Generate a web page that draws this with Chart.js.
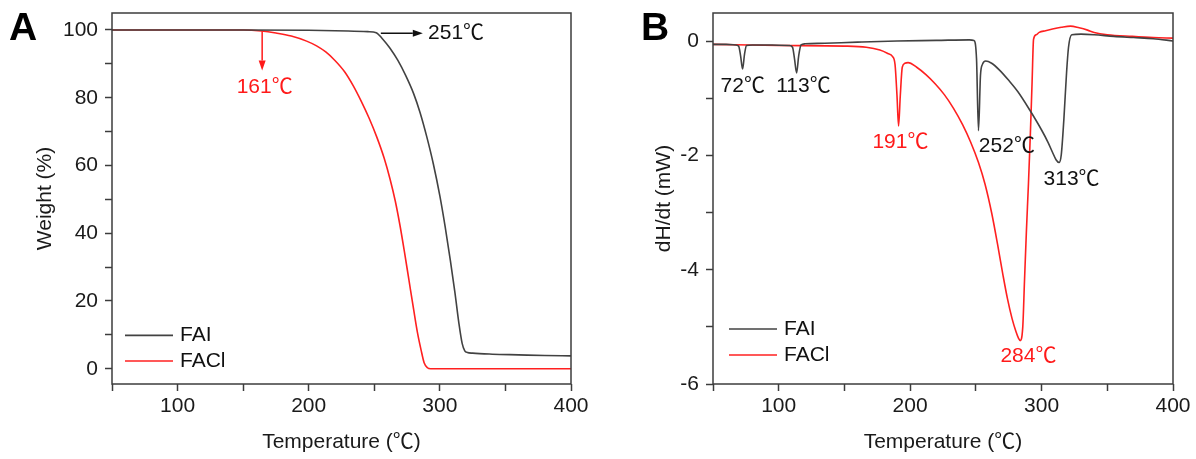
<!DOCTYPE html>
<html><head><meta charset="utf-8">
<script src="https://cdn.jsdelivr.net/npm/chart.js@4.4.1/dist/chart.umd.min.js"></script>
<style>
html,body{margin:0;padding:0;background:#fff;}
#wrap{position:relative;width:1196px;height:459px;overflow:hidden;background:#fff;}
canvas{position:absolute;top:0;}
</style></head><body>
<div id="wrap">
<canvas id="cA" width="598" height="459" style="left:0px"></canvas>
<canvas id="cB" width="598" height="459" style="left:598px"></canvas>
</div>
<script>
// ---------- DATA ----------
const seriesNames = ['FAI', 'FACl'];

// Panel A: TGA
const tgaTemp_FAI   = [50, 100, 150, 200, 230, 245, 251.5, 256, 262, 268, 274, 280, 285, 290, 295, 300, 304, 308, 311.5, 314.5, 317, 319, 321, 325, 340, 360, 380, 400];
const tgaWeight_FAI = [100, 100, 100, 99.9, 99.7, 99.5, 99.2, 97.5, 94.6, 91, 86.5, 81.2, 75.5, 68.5, 60.5, 51, 42, 32, 22.5, 13.5, 7.5, 5.3, 4.8, 4.6, 4.3, 4.1, 3.9, 3.8];
const tgaTemp_FACl   = [50, 100, 150, 164, 175, 186.7, 198.4, 206, 213, 220, 227.5, 234, 240, 246, 252, 257.5, 262, 266, 269.5, 273, 276.5, 280, 283, 285.7, 288, 290.5, 293, 320, 360, 400];
const tgaWeight_FACl = [100, 100, 100, 99.7, 99.1, 98.2, 96.7, 95.3, 93.5, 91, 87.6, 83.5, 79, 74, 68.3, 62.2, 56, 49.5, 42.5, 34.5, 26, 17.5, 10.5, 5.5, 1.8, 0.3, 0, 0, 0, 0];

// Panel B: DSC
const dscTemp_FAI = [50, 60, 67, 69.5, 71, 72.5, 74, 75.5, 80, 95, 108, 110.5, 112, 113.6, 115.2, 117, 120, 135, 160, 190, 220, 245, 248.5, 250.5, 252, 253.5, 255, 257.5, 262, 268, 275, 282, 291, 300, 305, 308.3, 311, 313.3, 315, 317, 319, 320.5, 323, 330, 340, 355, 370, 385, 400];
const dscHeat_FAI = [-0.05, -0.05, -0.06, -0.08, -0.25, -0.48, -0.22, -0.07, -0.06, -0.06, -0.07, -0.1, -0.3, -0.55, -0.25, -0.06, -0.04, -0.03, -0.01, 0.01, 0.02, 0.03, 0.02, -0.3, -1.56, -0.6, -0.4, -0.34, -0.38, -0.5, -0.68, -0.88, -1.2, -1.55, -1.77, -1.94, -2.07, -2.12, -1.98, -1.35, -0.55, -0.1, 0.12, 0.13, 0.12, 0.09, 0.07, 0.05, 0.01];
const dscTemp_FACl = [50, 100, 150, 166.6, 177, 183, 186.5, 188.5, 190, 191.2, 192.5, 194, 196, 198.4, 205, 212, 219, 226, 233, 240, 246, 252, 257, 262, 266.5, 270.7, 274, 277.5, 280.5, 282.5, 283.7, 285.7, 287, 288.5, 290, 291.5, 292.8, 293.9, 296, 298.2, 303, 308.3, 315, 322, 328.6, 335, 340, 350, 369, 385, 400];
const dscHeat_FACl = [-0.05, -0.07, -0.08, -0.1, -0.15, -0.21, -0.26, -0.4, -0.95, -1.48, -0.95, -0.45, -0.38, -0.37, -0.45, -0.58, -0.74, -0.93, -1.17, -1.46, -1.76, -2.12, -2.5, -3.0, -3.55, -4.1, -4.5, -4.85, -5.08, -5.2, -5.24, -5.0, -4.2, -3.3, -2.5, -1.6, -0.7, 0.04, 0.12, 0.16, 0.19, 0.22, 0.25, 0.27, 0.24, 0.2, 0.16, 0.12, 0.09, 0.07, 0.06];

// Ticks
const tempTicks      = [50, 100, 150, 200, 250, 300, 350, 400];
const tempTickLabels = ['', '100', '', '200', '', '300', '', '400'];
const weightTicks      = [0, 10, 20, 30, 40, 50, 60, 70, 80, 90, 100];
const weightTickLabels = ['0', '', '20', '', '40', '', '60', '', '80', '', '100'];
const heatTicks      = [-6, -5, -4, -3, -2, -1, 0];
const heatTickLabels = ['-6', '', '-4', '', '-2', '', '0'];

// Annotations (data coordinates)
const tgaNotes = [
  {text: '251℃', x: 291, y: 99.1, color: 'black', align: 'left'},
  {text: '161℃', x: 166.4, y: 83, color: 'red', align: 'center'}
];
const tgaArrows = [
  {x1: 255, y1: 99.0, x2: 287, y2: 99.0, color: 'black'},
  {x1: 164.5, y1: 99.6, x2: 164.5, y2: 88, color: 'red'}
];
const dscNotes = [
  {text: '72℃',  x: 72.6,  y: -0.78, color: 'black'},
  {text: '113℃', x: 118.8, y: -0.78, color: 'black'},
  {text: '191℃', x: 192.6, y: -1.77, color: 'red'},
  {text: '252℃', x: 273.6, y: -1.83, color: 'black'},
  {text: '313℃', x: 322.8, y: -2.41, color: 'black'},
  {text: '284℃', x: 290,   y: -5.51, color: 'red'}
];

// ---------- STYLE ----------
const FONT = "'Liberation Sans', Arial, 'Noto Sans CJK SC', sans-serif";
const COLORS = {FAI: '#424242', FACl: '#ff2020', black: '#111111', red: '#ff1a1a'};
const FRAME = '#3c3c3c';

Chart.defaults.font.family = FONT;
Chart.defaults.color = '#1a1a1a';

const notesPlugin = {
  id: 'notes',
  afterDraw(chart, args, o) {
    const {ctx, chartArea: a} = chart;
    const sx = chart.scales.x, sy = chart.scales.y;
    ctx.save();
    // frame
    ctx.strokeStyle = FRAME; ctx.lineWidth = 1.5;
    ctx.strokeRect(a.left, a.top, a.right - a.left, a.bottom - a.top);
    // arrows
    (o.arrows || []).forEach(ar => {
      const x1 = sx.getPixelForValue(ar.x1), y1 = sy.getPixelForValue(ar.y1);
      const x2 = sx.getPixelForValue(ar.x2), y2 = sy.getPixelForValue(ar.y2);
      const c = COLORS[ar.color];
      ctx.strokeStyle = c; ctx.fillStyle = c; ctx.lineWidth = 1.5;
      const ang = Math.atan2(y2 - y1, x2 - x1), hl = 10, hw = 3.5;
      const cs = Math.cos(ang), sn = Math.sin(ang);
      ctx.beginPath(); ctx.moveTo(x1, y1); ctx.lineTo(x2 - hl * cs, y2 - hl * sn); ctx.stroke();
      ctx.beginPath(); ctx.moveTo(x2, y2);
      ctx.lineTo(x2 - hl * cs + hw * sn, y2 - hl * sn - hw * cs);
      ctx.lineTo(x2 - hl * cs - hw * sn, y2 - hl * sn + hw * cs);
      ctx.closePath(); ctx.fill();
    });
    // texts
    ctx.font = '21px ' + FONT; ctx.textBaseline = 'middle';
    (o.texts || []).forEach(t => {
      ctx.fillStyle = COLORS[t.color]; ctx.textAlign = t.align || 'center';
      ctx.fillText(t.text, sx.getPixelForValue(t.x), sy.getPixelForValue(t.y));
    });
    // legend
    if (o.legend) {
      const L = o.legend;
      chart.data.datasets.forEach((ds, i) => {
        const yy = a.bottom - L.rows[i];
        const x0 = a.left + L.dx;
        ctx.strokeStyle = ds.borderColor; ctx.lineWidth = 1.6;
        ctx.beginPath(); ctx.moveTo(x0, yy); ctx.lineTo(x0 + L.len, yy); ctx.stroke();
        ctx.fillStyle = '#111'; ctx.textAlign = 'left'; ctx.textBaseline = 'middle';
        ctx.fillText(ds.label, x0 + L.len + L.gap, yy);
      });
    }
    // panel letter
    if (o.letter) {
      ctx.font = 'bold 39px ' + FONT; ctx.fillStyle = '#000';
      ctx.textAlign = 'left'; ctx.textBaseline = 'alphabetic';
      ctx.fillText(o.letter.text, o.letter.x, o.letter.y);
    }
    ctx.restore();
  }
};

function axis(cfg) {
  return {
    type: 'linear', min: cfg.min, max: cfg.max,
    afterBuildTicks: s => { s.ticks = cfg.ticks.map(v => ({value: v})); },
    afterFit: s => {
      if (cfg.horizontal) { s.height = cfg.size; s.paddingLeft = 0; s.paddingRight = 0; }
      else { s.width = cfg.size; s.paddingTop = 0; s.paddingBottom = 0; }
    },
    ticks: {
      autoSkip: false, maxRotation: 0, minRotation: 0,
      padding: cfg.horizontal ? 3 : 7,
      font: {size: 21}, color: '#1a1a1a',
      callback: v => { const i = cfg.ticks.indexOf(v); return i >= 0 ? cfg.labels[i] : ''; }
    },
    grid: {display: true, drawOnChartArea: false, drawTicks: true, tickLength: 7, tickColor: FRAME, tickWidth: 1.5},
    border: {display: false},
    title: {display: true, text: cfg.title, font: {size: 21}, color: '#1a1a1a', padding: cfg.titlePad}
  };
}

function ds(label, xs, ys, color) {
  return {
    label, data: xs.map((v, i) => ({x: v, y: ys[i]})),
    borderColor: color, borderWidth: 1.6, pointRadius: 0, fill: false,
    cubicInterpolationMode: 'monotone'
  };
}

function makeChart(id, cfg) {
  return new Chart(document.getElementById(id), {
    type: 'line',
    data: {datasets: cfg.datasets},
    options: {
      responsive: false, animation: false, devicePixelRatio: 1,
      layout: {padding: {left: 0, right: cfg.padRight, top: 13, bottom: 0}},
      scales: {x: cfg.x, y: cfg.y},
      plugins: {legend: {display: false}, tooltip: {enabled: false}, notes: cfg.notes}
    },
    plugins: [notesPlugin]
  });
}

makeChart('cA', {
  padRight: 27,
  datasets: [
    ds(seriesNames[0], tgaTemp_FAI, tgaWeight_FAI, COLORS.FAI),
    ds(seriesNames[1], tgaTemp_FACl, tgaWeight_FACl, COLORS.FACl)
  ],
  x: axis({horizontal: true, size: 75, min: 50, max: 400, ticks: tempTicks, labels: tempTickLabels, title: 'Temperature (℃)', titlePad: {top: 0, bottom: 4}}),
  y: axis({horizontal: false, size: 112, min: -4.5, max: 105, ticks: weightTicks, labels: weightTickLabels, title: 'Weight (%)', titlePad: {top: 33, bottom: 0}}),
  notes: {texts: tgaNotes, arrows: tgaArrows, legend: {dx: 13, rows: [48.6, 23], len: 48, gap: 7}, letter: {text: 'A', x: 9, y: 40}}
});

makeChart('cB', {
  padRight: 23,
  datasets: [
    ds(seriesNames[0], dscTemp_FAI, dscHeat_FAI, COLORS.FAI),
    ds(seriesNames[1], dscTemp_FACl, dscHeat_FACl, COLORS.FACl)
  ],
  x: axis({horizontal: true, size: 75, min: 50, max: 400, ticks: tempTicks, labels: tempTickLabels, title: 'Temperature (℃)', titlePad: {top: 0, bottom: 4}}),
  y: axis({horizontal: false, size: 115, min: -6, max: 0.5, ticks: heatTicks, labels: heatTickLabels, title: 'dH/dt (mW)', titlePad: {top: 54, bottom: 0}}),
  notes: {texts: dscNotes, legend: {dx: 16, rows: [55, 29], len: 48, gap: 7}, letter: {text: 'B', x: 43, y: 40}}
});
</script>
</body></html>
